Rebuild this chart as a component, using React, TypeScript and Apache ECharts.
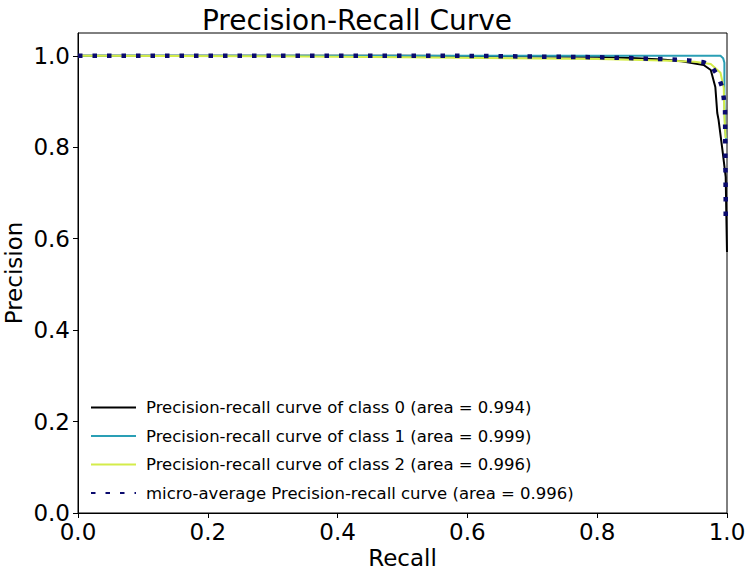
import React, { useEffect, useRef } from "react";
import * as echarts from "echarts";

const FONT = "DejaVu Sans";

const seriesNames = [
  "Precision-recall curve of class 0 (area = 0.994)",
  "Precision-recall curve of class 1 (area = 0.999)",
  "Precision-recall curve of class 2 (area = 0.996)",
  "micro-average Precision-recall curve (area = 0.996)",
];

// class 0
const recall0 = [0, 0.5, 0.8, 0.86, 0.9, 0.93, 0.964, 0.975, 0.982, 0.985, 0.987, 0.993, 0.998, 0.999, 1.0];
const precision0 = [1.0, 1.0, 0.998, 0.995, 0.992, 0.988, 0.98, 0.969, 0.932, 0.875, 0.86, 0.794, 0.735, 0.65, 0.571];

// class 1
const recall1 = [0, 0.5, 0.99, 0.994, 0.996, 0.996, 0.997, 0.999];
const precision1 = [1.0, 1.0, 1.0, 0.995, 0.985, 0.9, 0.84, 0.81];

// class 2
const recall2 = [0, 0.3, 0.5, 0.8, 0.9, 0.95, 0.975, 0.99, 0.995, 0.996, 0.997, 0.998];
const precision2 = [1.0, 0.999, 0.997, 0.993, 0.99, 0.987, 0.982, 0.963, 0.93, 0.87, 0.84, 0.82];

// micro-average
const recallM = [0, 0.6, 0.8, 0.9, 0.94, 0.964, 0.975, 0.987, 0.993, 0.995, 0.997, 0.998, 0.998];
const precisionM = [1.0, 1.0, 0.997, 0.993, 0.99, 0.986, 0.98, 0.954, 0.93, 0.908, 0.88, 0.685, 0.63];

const ticks = [0, 0.2, 0.4, 0.6, 0.8, 1.0];

const colors = ["#000000", "#2a9fb5", "#d4ec4a", "#0a0a6e"];

function zip(a: number[], b: number[]) {
  return a.map((v, i) => [v, b[i]]);
}

export default function App() {
  const ref = useRef<HTMLDivElement>(null);
  useEffect(() => {
    document.body.style.margin = "0";
    const chart = echarts.init(ref.current!, null, { renderer: "svg" });
    const datas = [
      zip(recall0, precision0),
      zip(recall1, precision1),
      zip(recall2, precision2),
      zip(recallM, precisionM),
    ];
    chart.setOption({
      animation: false,
      backgroundColor: "#ffffff",
      title: {
        text: "Precision-Recall Curve",
        left: 352,
        top: 1,
        textAlign: "center",
        textStyle: { fontFamily: FONT, fontSize: 28, fontWeight: "normal", color: "#000" },
      },
      grid: {
        left: 78,
        top: 33,
        right: 27,
        bottom: 59,
        containLabel: false,
        outerBoundsMode: "none",
        show: true,
        borderColor: "#000",
        borderWidth: 1,
        backgroundColor: "transparent",
      },
      legend: {
        orient: "vertical",
        left: 85,
        top: 394,
        itemWidth: 45,
        itemHeight: 14,
        itemGap: 11.5,
        data: seriesNames,
        itemStyle: { opacity: 0 },
        textStyle: { fontFamily: FONT, fontSize: 16.5, lineHeight: 14, color: "#000", padding: [0, 0, 0, 5] },
      },
      xAxis: {
        type: "value",
        min: 0,
        max: 1,
        interval: 0.2,
        name: "Recall",
        nameLocation: "middle",
        nameGap: 33,
        nameMoveOverlap: false,
        nameTextStyle: { fontFamily: FONT, fontSize: 23, lineHeight: 24, color: "#000" },
        axisLine: { show: true, lineStyle: { color: "#000", width: 1 } },
        axisTick: { show: true, length: 5, inside: false, lineStyle: { color: "#000" } },
        axisLabel: {
          fontFamily: FONT,
          fontSize: 23,
          lineHeight: 20,
          color: "#000",
          margin: 9,
          formatter: (v: number) => v.toFixed(1),
        },
        splitLine: { show: false },
      },
      yAxis: {
        type: "value",
        min: 0,
        max: 1.05,
        interval: 0.2,
        name: "Precision",
        nameLocation: "middle",
        nameRotate: 90,
        nameGap: 52,
        nameMoveOverlap: false,
        nameTextStyle: { fontFamily: FONT, fontSize: 23, lineHeight: 24, color: "#000" },
        axisLine: { show: true, lineStyle: { color: "#000", width: 1 } },
        axisTick: { show: true, length: 5, inside: false, customValues: ticks, lineStyle: { color: "#000" } },
        axisLabel: {
          fontFamily: FONT,
          fontSize: 23,
          lineHeight: 18,
          color: "#000",
          margin: 8,
          customValues: ticks,
          formatter: (v: number) => v.toFixed(1),
        },
        splitLine: { show: false },
      },
      series: datas.map((d, i) => ({
        name: seriesNames[i],
        type: "line",
        data: d,
        symbol: "none",
        showSymbol: false,
        clip: true,
        color: colors[i],
        lineStyle:
          i === 3
            ? { color: colors[i], width: 4.5, type: [4.5, 10], cap: "butt" }
            : { color: colors[i], width: 2 },
        z: 2 + i,
      })),
    });
    return () => chart.dispose();
  }, []);
  return <div ref={ref} style={{ width: 754, height: 572 }} />;
}
